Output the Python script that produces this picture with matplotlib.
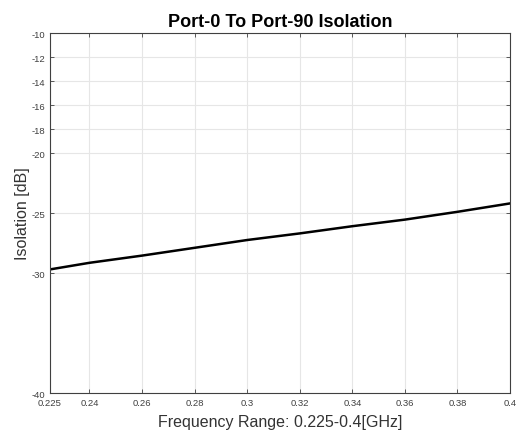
import numpy as np
import matplotlib
matplotlib.use("Agg")
import matplotlib.pyplot as plt

plt.rcParams['font.family'] = ['Liberation Sans', 'DejaVu Sans']
plt.rcParams['axes.unicode_minus'] = False

# data
freq = [0.225, 0.24, 0.26, 0.28, 0.30, 0.32, 0.34, 0.36, 0.38, 0.40]
isolation = [-29.7, -29.15, -28.55, -27.9, -27.25, -26.7, -26.1, -25.55, -24.9, -24.2]

xticks = [0.225, 0.24, 0.26, 0.28, 0.3, 0.32, 0.34, 0.36, 0.38, 0.4]
xticklabels = ['0.225', '0.24', '0.26', '0.28', '0.3', '0.32', '0.34', '0.36', '0.38', '0.4']
yticks = [-40, -30, -25, -20, -18, -16, -14, -12, -10]

fig = plt.figure(figsize=(5.21, 4.39), dpi=100)
ax = fig.add_axes([0.096, 0.1025, 0.883, 0.82])
ax.plot(freq, isolation, color='black', linewidth=1.8)

ax.set_xlim(0.225, 0.4)
ax.set_ylim(-40, -10)
ax.set_xticks(xticks)
ax.set_xticklabels(xticklabels)
ax.set_yticks(yticks)
ax.grid(True, color='#e6e6e6', linewidth=0.8)
ax.tick_params(direction='in', top=True, right=True, labelsize=6.8,
               labelcolor='#404040', length=3, width=0.6, color='#404040')
for s in ax.spines.values():
    s.set_color('#404040')
    s.set_linewidth(0.8)

ax.set_xlabel('Frequency Range: 0.225-0.4[GHz]', fontsize=11.5, color='#333333', labelpad=5)
ax.set_ylabel('Isolation [dB]', fontsize=11.5, color='#333333', labelpad=1)
ax.set_title('Port-0 To Port-90 Isolation', fontsize=13, fontweight='bold', pad=5)

fig.savefig('out.png', dpi=100)
